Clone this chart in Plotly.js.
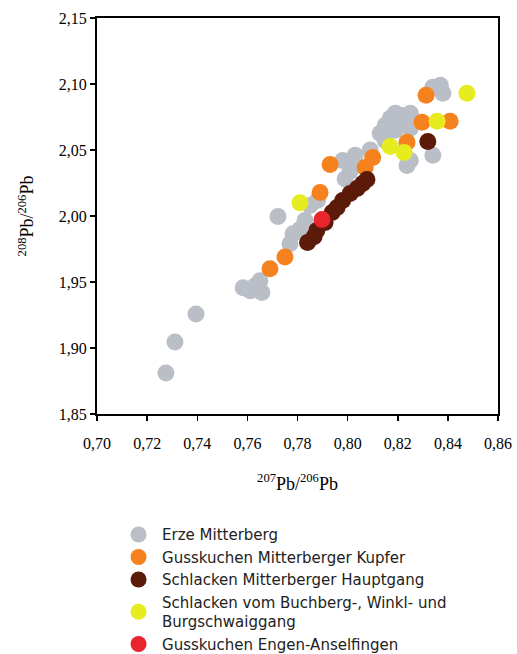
<!DOCTYPE html>
<html>
<head>
<meta charset="utf-8">
<script src="https://cdn.plot.ly/plotly-3.0.1.min.js"></script>
<style>html,body{margin:0;padding:0;background:#fff;}#chart{width:517px;height:654px;}</style>
</head>
<body>
<div id="chart"></div>
<script>
// Erze Mitterberg
const erzeX = [0.7275, 0.7311, 0.7395, 0.7583, 0.7611, 0.7630, 0.7650, 0.7658, 0.7722, 0.7770, 0.7782, 0.7810, 0.7830, 0.7850, 0.7880, 0.7990, 0.8010, 0.8030, 0.7980, 0.8030, 0.8090, 0.8130, 0.8150, 0.8170, 0.8190, 0.8210, 0.8230, 0.8250, 0.8210, 0.8250, 0.8190, 0.8150, 0.8237, 0.8250, 0.8340, 0.8340, 0.8380, 0.8370];
const erzeY = [1.881, 1.9046, 1.9258, 1.9456, 1.9433, 1.947, 1.951, 1.942, 1.9996, 1.979, 1.9866, 1.990, 1.9965, 2.008, 2.012, 2.028, 2.034, 2.038, 2.042, 2.046, 2.050, 2.0626, 2.0687, 2.074, 2.0778, 2.0763, 2.074, 2.0778, 2.0687, 2.0664, 2.065, 2.057, 2.0383, 2.042, 2.046, 2.0976, 2.093, 2.099];
// Gusskuchen Mitterberger Kupfer
const kupferX = [0.7690, 0.7750, 0.7890, 0.7930, 0.8070, 0.8100, 0.8237, 0.8297, 0.8409, 0.8313];
const kupferY = [1.960, 1.969, 2.0178, 2.039, 2.0368, 2.0444, 2.0558, 2.071, 2.0717, 2.0915];
// Schlacken Mitterberger Hauptgang
const hauptX = [0.7840, 0.7866, 0.7877, 0.7910, 0.7938, 0.7958, 0.7980, 0.8010, 0.8038, 0.8060, 0.8077, 0.8320];
const hauptY = [1.980, 1.9843, 1.989, 1.995, 2.0026, 2.0064, 2.0117, 2.017, 2.0208, 2.0246, 2.0277, 2.0565];
// Schlacken vom Buchberg-, Winkl- und Burgschwaiggang
const buchX = [0.7810, 0.8170, 0.8225, 0.8357, 0.8476];
const buchY = [2.010, 2.0527, 2.0482, 2.0717, 2.093];
// Gusskuchen Engen-Anselfingen
const engenX = [0.7898];
const engenY = [1.9973];

const names = ["Erze Mitterberg", "Gusskuchen Mitterberger Kupfer", "Schlacken Mitterberger Hauptgang", "Schlacken vom Buchberg-, Winkl- und<br>Burgschwaiggang", "Gusskuchen Engen-Anselfingen"];
const colors = ["#babec6", "#f5821f", "#5c1a08", "#e6ec1e", "#e8242c"];
const xs = [erzeX, kupferX, hauptX, buchX, engenX];
const ys = [erzeY, kupferY, hauptY, buchY, engenY];

const traces = xs.map((x, i) => ({
  type: "scatter", mode: "markers", x: x, y: ys[i], name: names[i],
  marker: {size: 17, color: colors[i], line: {width: 0}}
}));

const serif = "'Liberation Serif', 'Times New Roman', serif";
const tickFont = {family: serif, size: 16, color: "#000"};
const layout = {
  width: 517, height: 654,
  margin: {l: 97, r: 19, t: 18, b: 240},
  paper_bgcolor: "#fff", plot_bgcolor: "#fff",
  separators: ", ",
  showlegend: true,
  xaxis: {
    range: [0.70, 0.86], tickvals: [0.70,0.72,0.74,0.76,0.78,0.80,0.82,0.84,0.86], tickformat: ".2f",
    showgrid: false, zeroline: false, showline: true, linecolor: "#000", linewidth: 2, mirror: true,
    ticks: "outside", ticklen: 5, tickwidth: 1.5, tickcolor: "#000", tickfont: tickFont,
    ticklabelstandoff: 9,
    title: {text: "<sup>207</sup>Pb/<sup>206</sup>Pb", font: {family: serif, size: 18, color: "#000"}, standoff: 26}
  },
  yaxis: {
    range: [1.85, 2.15], tickvals: [1.85,1.90,1.95,2.00,2.05,2.10,2.15], tickformat: ".2f",
    showgrid: false, zeroline: false, showline: true, linecolor: "#000", linewidth: 2, mirror: true,
    ticks: "outside", ticklen: 5, tickwidth: 1.5, tickcolor: "#000", tickfont: tickFont,
    title: {text: "<sup>208</sup>Pb/<sup>206</sup>Pb", font: {family: serif, size: 18, color: "#000"}, standoff: 20}
  },
  legend: {
    x: 0.045, xanchor: "left", yref: "container", y: 0.2076, yanchor: "top",
    orientation: "v", bgcolor: "rgba(0,0,0,0)", itemwidth: 37,
    font: {family: "'DejaVu Sans', Arial, sans-serif", size: 15, color: "#222"},
    tracegroupgap: 0
  }
};

Plotly.newPlot("chart", traces, layout, {displayModeBar: false, staticPlot: true});
</script>
</body>
</html>
